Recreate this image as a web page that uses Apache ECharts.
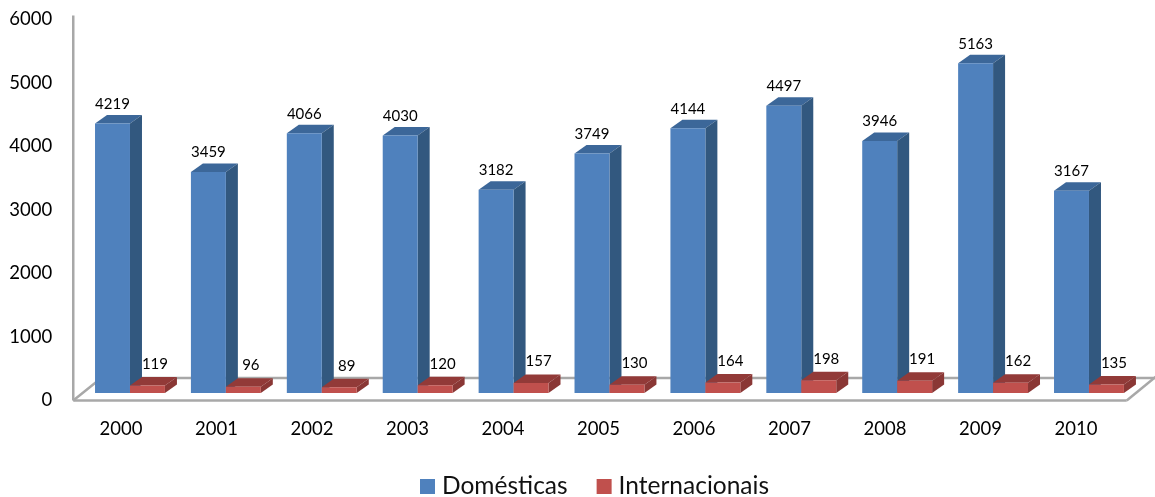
<!DOCTYPE html>
<html><head><meta charset="utf-8">
<style>html,body{margin:0;padding:0;background:#fff}#c{width:1155px;height:497px}</style>
<script src="https://cdn.jsdelivr.net/npm/echarts@6/dist/echarts.min.js"></script>
</head><body><div id="c"></div>
<script>
const categories = ['2000','2001','2002','2003','2004','2005','2006','2007','2008','2009','2010'];
const domesticas = [4219,3459,4066,4030,3182,3749,4144,4497,3946,5163,3167];
const internacionais = [119,96,89,120,157,130,164,198,191,162,135];
const FONT = 'Lato, Carlito, sans-serif';
const DX = 12, DY = 8.5, BASE = 7.5, SKEW = 0.4, STRETCH = 1.006;
const GRAY = '#a8a8a8';
const chart = echarts.init(document.getElementById('c'), null, {renderer:'canvas'});

function box(x, w, yTop, yBase, c) {
  return [
    {type:'polygon', shape:{points:[[x,yTop],[x+DX,yTop-DY],[x+w+DX,yTop-DY],[x+w,yTop]]}, style:{fill:c.top}},
    {type:'polygon', shape:{points:[[x+w,yTop],[x+w+DX,yTop-DY],[x+w+DX,yBase-DY],[x+w,yBase]]}, style:{fill:c.side}},
    {type:'rect', shape:{x:x, y:yTop, width:w, height:yBase-yTop}, style:{fill:c.front}}
  ];
}
function barSeries(name, values, c, offsetFrac, labelDx, labelUp) {
  return {
    name, type:'custom', z:5, itemStyle:{color:c.front},
    data: values.map((v,i)=>[i,v]),
    encode:{x:0,y:1},
    renderItem(params, api){
      const pt = api.coord([api.value(0), api.value(1)]);
      const zero = api.coord([api.value(0), 0]);
      const band = api.size([1,0])[0];
      const w = band*0.366;
      const x = pt[0] + band*offsetFrac + api.value(0)*SKEW;
      const yBase = zero[1]-BASE, yTop = yBase-(zero[1]-pt[1])*STRETCH;
      return {type:'group', children:[
        ...box(x,w,yTop,yBase,c),
        {type:'text', z2:10, style:{text:String(api.value(1)), x:x+w/2+labelDx, y:yTop-DY-labelUp,
          textAlign:'center', textVerticalAlign:'middle', fontFamily:FONT, fontSize:15, fill:'#000'}}
      ]};
    }
  };
}
const floor = {
  type:'custom', z:1, silent:true, data:[[0,0]], encode:{x:0,y:1},
  renderItem(params, api){
    const o = api.coord([0,0]);
    const band = api.size([1,0])[0];
    const left = o[0]-band/2;
    const right = left + band*categories.length + 3;
    const top = api.coord([0,6000])[1];
    const ls = {stroke:GRAY, lineWidth:2.5, fill:null};
    return {type:'group', children:[
      {type:'polyline', shape:{points:[[left,o[1]],[left+28,o[1]-22.5],[1158,o[1]-22.5]]}, style:ls},
      {type:'polyline', shape:{points:[[right,o[1]],[right+30,o[1]-24.5]]}, style:ls},
      {type:'line', shape:{x1:left,y1:o[1],x2:right,y2:o[1]}, style:ls},
      {type:'line', shape:{x1:left,y1:o[1],x2:left,y2:top-4}, style:ls}
    ]};
  }
};
chart.setOption({
  animation:false,
  backgroundColor:'#fff',
  grid:{left:73.25, width:1050.5, top:19.5, height:381},
  legend:{
    data:['Domésticas','Internacionais'], top:474, left:420, icon:'rect', padding:0,
    itemWidth:15, itemHeight:15, itemGap:29,
    textStyle:{fontFamily:FONT, fontSize:24.5, color:'#111', padding:[0,0,0,2]}
  },
  xAxis:{type:'category', data:categories,
    axisLine:{show:false}, axisTick:{show:false},
    axisLabel:{margin:19, fontFamily:FONT, fontSize:18.5, color:'#000'}},
  yAxis:{type:'value', min:0, max:6000, interval:1000,
    axisLine:{show:false}, axisTick:{show:false}, splitLine:{show:false},
    axisLabel:{margin:21, fontFamily:FONT, fontSize:18.5, color:'#000', padding:[3,0,0,0], formatter:v=>String(v)}},
  series:[
    floor,
    barSeries('Domésticas', domesticas, {front:'#4f81bd', side:'#32587f', top:'#3c6799'}, -0.272, 0, 11),
    barSeries('Internacionais', internacionais, {front:'#c0504d', side:'#8a3735', top:'#923a38'}, 0.094, 7.5, 13)
  ]
});
</script></body></html>
